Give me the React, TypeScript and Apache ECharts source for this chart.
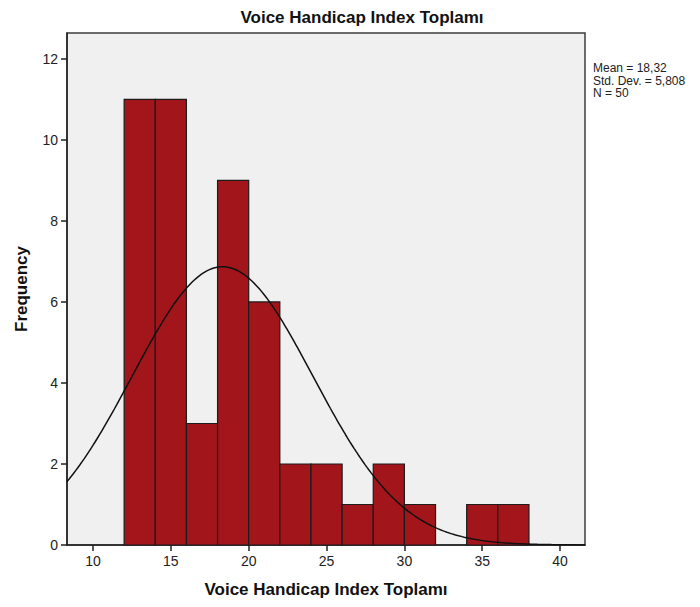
import React, { useEffect, useRef } from "react";
import * as echarts from "echarts";

// Histogram bins (lower edge), bin width and counts
const binStarts = [12, 14, 16, 18, 20, 22, 24, 26, 28, 30, 32, 34, 36];
const binWidth = 2;
const frequencies = [11, 11, 3, 9, 6, 2, 2, 1, 2, 1, 0, 1, 1];

// Axis ranges and ticks
const xRange = [8.33, 41.6];
const xTicks = [10, 15, 20, 25, 30, 35, 40];
const yRange = [0, 12.64];
const yTicks = [0, 2, 4, 6, 8, 10, 12];

// Summary statistics shown beside the plot
const mean = 18.32;
const stdDev = 5.808;
const count = 50;
const statLines = ["Mean = 18,32", "Std. Dev. = 5,808", "N = 50"];

const chartTitle = "Voice Handicap Index Toplamı";
const yTitle = "Frequency";

const NARROW = "'Liberation Sans Narrow', 'Arial Narrow', Arial, sans-serif";
const SANS = "'Liberation Sans', Arial, Helvetica, sans-serif";

// Normal curve scaled to counts: N * binWidth * pdf(x)
function normalCurve(): number[][] {
  const pts: number[][] = [];
  const steps = 240;
  const k = (count * binWidth) / (stdDev * Math.sqrt(2 * Math.PI));
  for (let i = 0; i <= steps; i++) {
    const x = xRange[0] + ((xRange[1] - xRange[0]) * i) / steps;
    const z = (x - mean) / stdDev;
    pts.push([x, k * Math.exp(-0.5 * z * z)]);
  }
  return pts;
}

export default function App() {
  const ref = useRef<HTMLDivElement>(null);

  useEffect(() => {
    if (!ref.current) return;
    const chart = echarts.init(ref.current, undefined, { renderer: "svg" });

    const barData = binStarts
      .map((s, i) => [s, s + binWidth, frequencies[i]])
      .filter((d) => d[2] > 0);

    chart.setOption({
      animation: false,
      backgroundColor: "#ffffff",
      grid: {
        left: 67,
        right: 115,
        top: 33,
        bottom: 62,
        show: true,
        backgroundColor: "#f0f0f0",
        borderColor: "#3c3c3c",
        borderWidth: 1.5,
      },
      graphic: [
        {
          type: "text",
          x: 362,
          y: 17,
          style: {
            text: chartTitle,
            fill: "#111",
            font: `bold 17px ${SANS}`,
            align: "center",
            verticalAlign: "middle",
          },
        },
        {
          type: "text",
          x: 593,
          y: 62,
          style: {
            text: statLines.join("\n"),
            fill: "#222",
            font: `12px ${NARROW}`,
            lineHeight: 12.5,
          },
        },
      ],
      xAxis: {
        type: "value",
        min: xRange[0],
        max: xRange[1],
        name: chartTitle,
        nameLocation: "middle",
        nameGap: 44,
        nameTextStyle: {
          fontFamily: SANS,
          fontWeight: "bold",
          fontSize: 17,
          color: "#111",
          verticalAlign: "middle",
        },
        splitLine: { show: false },
        axisLine: { show: true, onZero: false, lineStyle: { color: "#222", width: 1.5 } },
        axisTick: {
          show: true,
          inside: false,
          length: 6,
          customValues: xTicks,
          lineStyle: { color: "#222", width: 1.5 },
        },
        axisLabel: {
          customValues: xTicks,
          fontFamily: NARROW,
          fontSize: 14,
          color: "#222",
          margin: 9,
        },
      },
      yAxis: {
        type: "value",
        min: yRange[0],
        max: yRange[1],
        name: yTitle,
        nameLocation: "middle",
        nameGap: 46,
        nameTextStyle: {
          fontFamily: SANS,
          fontWeight: "bold",
          fontSize: 17,
          color: "#111",
          verticalAlign: "middle",
        },
        splitLine: { show: false },
        axisLine: { show: true, lineStyle: { color: "#222", width: 1.5 } },
        axisTick: {
          show: true,
          inside: false,
          length: 6,
          customValues: yTicks,
          lineStyle: { color: "#222", width: 1.5 },
        },
        axisLabel: {
          customValues: yTicks,
          fontFamily: NARROW,
          fontSize: 14,
          color: "#222",
          margin: 9,
        },
      },
      series: [
        {
          type: "custom",
          data: barData,
          encode: { x: [0, 1], y: 2 },
          renderItem: (_params: any, api: any) => {
            const x0 = api.value(0);
            const x1 = api.value(1);
            const c = api.value(2);
            const p0 = api.coord([x0, c]);
            const p1 = api.coord([x1, 0]);
            return {
              type: "rect",
              shape: {
                x: p0[0],
                y: p0[1],
                width: p1[0] - p0[0],
                height: p1[1] - p0[1],
              },
              style: { fill: "#a1151b", stroke: "#1c1c1c", lineWidth: 1.2 },
            };
          },
          z: 2,
        },
        {
          type: "line",
          data: normalCurve(),
          showSymbol: false,
          smooth: false,
          lineStyle: { color: "#111", width: 1.5 },
          z: 3,
        },
      ],
    });

    return () => chart.dispose();
  }, []);

  return <div ref={ref} style={{ width: 700, height: 607, margin: -8 }} />;
}
